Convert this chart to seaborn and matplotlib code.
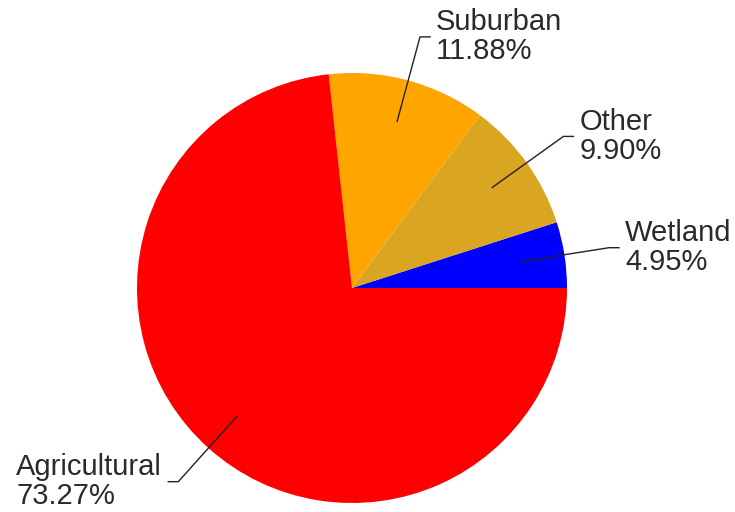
import numpy as np
import seaborn as sns
import matplotlib.pyplot as plt

# land use shares (percent), drawn counter-clockwise from 3 o'clock
categories = ['Wetland', 'Other', 'Suburban', 'Agricultural']
shares = [4.95, 9.90, 11.88, 73.27]
colors = ['#0000FF', '#DAA520', '#FFA500', '#FF0000']

sns.set_theme(style='white')
plt.rcParams['font.family'] = ['Liberation Sans', 'DejaVu Sans']

fig = plt.figure(figsize=(7.35, 5.12), dpi=100)
ax = fig.add_axes([0, 0, 1, 1])

wedges, _ = ax.pie(shares, colors=colors, startangle=0, counterclock=True,
                   wedgeprops=dict(linewidth=0))

# callout lines: from inside the wedge out to an elbow, then a short horizontal tick
for w, name, val in zip(wedges, categories, shares):
    ang = np.deg2rad((w.theta1 + w.theta2) / 2)
    cx, cy = np.cos(ang), np.sin(ang)
    side = 1 if cx >= 0 else -1
    x0, y0 = 0.8 * cx, 0.8 * cy
    x1, y1 = 1.21 * cx, 1.21 * cy
    x2 = x1 + side * 0.05
    ax.plot([x0, x1, x2], [y0, y1, y1], color='#222222', lw=1.0,
            solid_capstyle='butt')
    ax.text(x2 + side * 0.025, y1, f'{name}\n{val:.2f}%',
            ha='left' if side > 0 else 'right', va='center',
            multialignment='left', fontsize=21, color='#2a2a2a',
            linespacing=1.05)

ax.set_xlim(-352 / 215, 383 / 215)
ax.set_ylim(-224 / 215, 288 / 215)
ax.set_aspect('auto')
ax.axis('off')

fig.savefig('out.png', dpi=100, facecolor='white')
